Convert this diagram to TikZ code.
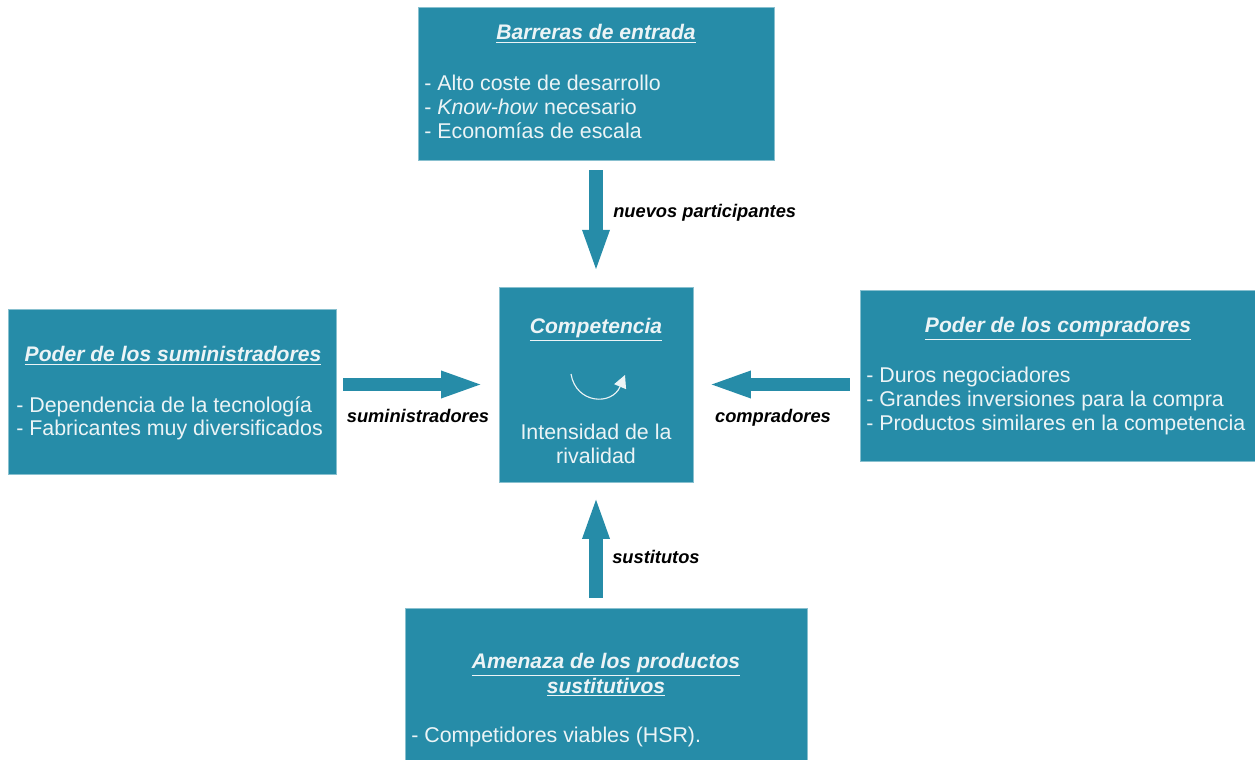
\documentclass[tikz,border=0pt]{standalone}
\usepackage{fontspec}
\setmainfont{Liberation Sans}
\usetikzlibrary{arrows.meta}
\definecolor{porter}{RGB}{38,140,168}
\definecolor{texto}{RGB}{236,244,246}

\tikzset{
  fuerza/.style={fill=porter, draw=porter!55!white, line width=0.5pt, inner sep=0pt},
  titulo/.style={text=texto, font=\fontsize{15}{17.5}\selectfont\bfseries\itshape, align=center, inner sep=0pt},
  lista/.style={text=texto, font=\fontsize{15.2}{17}\selectfont, align=left, inner sep=0pt},
  flecha/.style={draw=porter, line width=9.5pt, -{Triangle[width=17pt,length=31pt]}},
  etiqueta/.style={font=\fontsize{13}{15}\selectfont\bfseries\itshape, inner sep=0pt},
}

\begin{document}
\begin{tikzpicture}[x=0.025cm, y=-0.025cm]
\useasboundingbox (0,0) rectangle (1255,760);

% cajas
\node[fuerza, minimum width=8.9cm, minimum height=3.825cm] (entrada) at (596,83.5) {};
\node[fuerza, minimum width=4.85cm, minimum height=4.875cm] (comp) at (596,384.5) {};
\node[fuerza, minimum width=8.2cm, minimum height=4.125cm] (sumin) at (172,391.5) {};
\node[fuerza, minimum width=9.875cm, minimum height=4.275cm] (compra) at (1057.5,375.5) {};
\node[fuerza, minimum width=10.05cm, minimum height=3.85cm] (sustit) at (606,685) {};

% titulos
\node[titulo, anchor=base] (tentrada) at (596,40) {\underline{Barreras de entrada}};
\node[titulo, anchor=base] (tcomp) at (596,334) {\underline{Competencia}};
\node[titulo, anchor=base] (tsumin) at (173,362) {\underline{Poder de los suministradores}};
\node[titulo, anchor=base] (tcompra) at (1058,333) {\underline{Poder de los compradores}};
\node[titulo] (tsustit) at (606,675) {\underline{Amenaza de los productos}\\\underline{sustitutivos}};

% listas
\node[lista, anchor=north west] (lentrada) at (424,75) {- Alto coste de desarrollo\\- \textit{Know-how} necesario\\- Economías de escala};
\node[lista, anchor=north west] (lsumin) at (16,396) {- Dependencia de la tecnología\\- Fabricantes muy diversificados};
\node[lista, anchor=north west] (lcompra) at (866,367) {- Duros negociadores\\- Grandes inversiones para la compra\\- Productos similares en la competencia};
\node[lista, anchor=north west] (lsustit) at (411,727) {- Competidores viables (HSR).};
\node[lista, align=center] (rival) at (596,444) {Intensidad de la\\rivalidad};

% icono de rivalidad
\draw[texto, line width=0.8pt, -{Triangle[width=9pt,length=9pt]}] (571,374) .. controls (576,404) and (612,406) .. (625,375);

% flechas
\draw[flecha, shorten <=7.1pt, shorten >=9.4pt] (entrada) -- (comp);
\draw[flecha, shorten <=5pt, shorten >=9.9pt] (sumin.east |- comp) -- (comp);
\draw[flecha, shorten <=7.1pt, shorten >=9.9pt] (compra.west |- comp) -- (comp);
\draw[flecha, shorten <=7.1pt, shorten >=9.2pt] (sustit.north -| comp) -- (comp);

% etiquetas
\node[etiqueta, anchor=base west] (enuevos) at (613,218) {nuevos participantes};
\node[etiqueta, anchor=base] (esumin) at (418,423) {suministradores};
\node[etiqueta, anchor=base] (ecompra) at (773,423) {compradores};
\node[etiqueta, anchor=base west] (esustit) at (612,563) {sustitutos};
\end{tikzpicture}
\end{document}
